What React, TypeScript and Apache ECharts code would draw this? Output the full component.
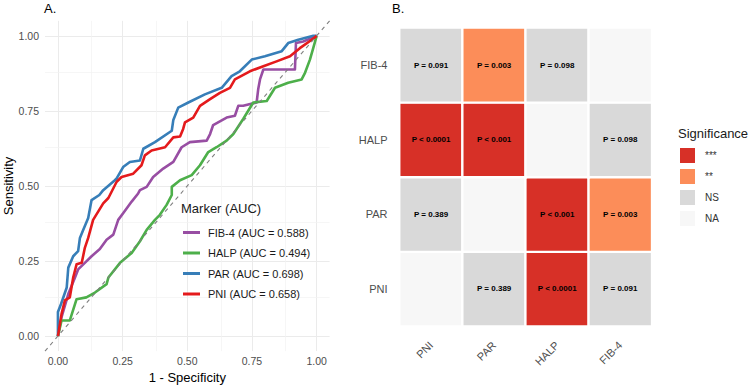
import React, { useEffect, useRef } from "react";
import * as echarts from "echarts";

// ROC curve points (1 - specificity, sensitivity)
const fib4Fpr = [0, 0.014, 0.04, 0.066, 0.078, 0.104, 0.13, 0.162, 0.188, 0.214, 0.233, 0.252, 0.285, 0.31, 0.317, 0.343, 0.368, 0.407, 0.446, 0.478, 0.51, 0.575, 0.588, 0.6, 0.652, 0.684, 0.697, 0.716, 0.768, 0.774, 0.781, 0.794, 0.897, 0.916, 0.92, 0.948, 1];
const fib4Tpr = [0, 0.063, 0.14, 0.195, 0.222, 0.244, 0.266, 0.29, 0.321, 0.338, 0.387, 0.409, 0.448, 0.475, 0.486, 0.497, 0.53, 0.558, 0.58, 0.629, 0.646, 0.651, 0.673, 0.703, 0.728, 0.734, 0.767, 0.767, 0.778, 0.822, 0.855, 0.888, 0.888, 0.888, 0.976, 0.981, 1];
const halpFpr = [0, 0.014, 0.046, 0.072, 0.11, 0.143, 0.188, 0.195, 0.24, 0.285, 0.317, 0.343, 0.375, 0.394, 0.42, 0.44, 0.44, 0.472, 0.517, 0.549, 0.581, 0.613, 0.652, 0.678, 0.716, 0.755, 0.807, 0.839, 0.89, 0.942, 0.955, 0.974, 0.987, 1];
const halpTpr = [0, 0.052, 0.052, 0.123, 0.129, 0.145, 0.173, 0.195, 0.244, 0.277, 0.316, 0.354, 0.387, 0.404, 0.437, 0.47, 0.497, 0.519, 0.536, 0.569, 0.613, 0.629, 0.651, 0.673, 0.723, 0.778, 0.783, 0.827, 0.844, 0.855, 0.877, 0.921, 0.96, 1];
const parFpr = [0, 0, 0.012, 0.034, 0.04, 0.059, 0.078, 0.085, 0.098, 0.117, 0.13, 0.16, 0.175, 0.22, 0.227, 0.252, 0.278, 0.317, 0.33, 0.375, 0.44, 0.446, 0.465, 0.504, 0.568, 0.633, 0.671, 0.703, 0.749, 0.8, 0.865, 0.89, 0.929, 0.987, 1];
const parTpr = [0, 0.08, 0.107, 0.162, 0.228, 0.266, 0.283, 0.327, 0.354, 0.393, 0.453, 0.47, 0.486, 0.519, 0.525, 0.563, 0.58, 0.585, 0.624, 0.646, 0.684, 0.72, 0.761, 0.778, 0.805, 0.827, 0.866, 0.882, 0.921, 0.932, 0.949, 0.976, 0.987, 1, 1];
const pniFpr = [0, 0.014, 0.027, 0.046, 0.059, 0.072, 0.092, 0.104, 0.117, 0.136, 0.175, 0.195, 0.227, 0.246, 0.291, 0.323, 0.336, 0.362, 0.414, 0.446, 0.472, 0.484, 0.491, 0.523, 0.549, 0.588, 0.626, 0.665, 0.684, 0.742, 0.794, 0.845, 0.897, 0.935, 0.981, 1];
const pniTpr = [0, 0.074, 0.119, 0.129, 0.195, 0.239, 0.244, 0.294, 0.327, 0.387, 0.442, 0.46, 0.514, 0.53, 0.541, 0.569, 0.602, 0.618, 0.629, 0.662, 0.665, 0.69, 0.712, 0.728, 0.767, 0.789, 0.81, 0.827, 0.855, 0.882, 0.899, 0.915, 0.932, 0.959, 0.987, 1];

const rocNames = ["FIB-4 (AUC = 0.588)", "HALP (AUC = 0.494)", "PAR (AUC = 0.698)", "PNI (AUC = 0.658)"];
const rocColors = ["#984EA3", "#4DAF4A", "#377EB8", "#E41A1C"];

const axisTicks = [0, 0.25, 0.5, 0.75, 1];
const minorTicks = [0.125, 0.375, 0.625, 0.875];
const diagonal = [-0.05, 1.05];

// Heatmap of pairwise comparisons
const markers = ["PNI", "PAR", "HALP", "FIB-4"];
// rows indexed by y category (PNI, PAR, HALP, FIB-4), columns by x category (PNI, PAR, HALP, FIB-4)
const pLabels = [
  ["", "P = 0.389", "P < 0.0001", "P = 0.091"],
  ["P = 0.389", "", "P < 0.001", "P = 0.003"],
  ["P < 0.0001", "P < 0.001", "", "P = 0.098"],
  ["P = 0.091", "P = 0.003", "P = 0.098", ""],
];
// significance code: 3 = ***, 2 = **, 1 = NS, 0 = NA
const sigCodes = [
  [0, 1, 3, 1],
  [1, 0, 3, 2],
  [3, 3, 0, 1],
  [1, 2, 1, 0],
];
const sigLabels = ["***", "**", "NS", "NA"];
const sigColors = ["#D73027", "#FC8D59", "#D9D9D9", "#F7F7F7"];
const sigValues = [3, 2, 1, 0];

const FONT = "Liberation Sans, Arial, sans-serif";

export default function App() {
  const ref = useRef<HTMLDivElement>(null);
  useEffect(() => {
    if (!ref.current) return;
    const chart = echarts.init(ref.current, undefined, { renderer: "svg" });

    const pairs = (xs: number[], ys: number[]) => xs.map((x, i) => [x, ys[i]]);
    const rocData = [pairs(fib4Fpr, fib4Tpr), pairs(halpFpr, halpTpr), pairs(parFpr, parTpr), pairs(pniFpr, pniTpr)];

    const heatData: any[] = [];
    for (let yi = 0; yi < markers.length; yi++) {
      for (let xi = 0; xi < markers.length; xi++) {
        heatData.push({ value: [xi, yi, sigCodes[yi][xi]], pText: pLabels[yi][xi] });
      }
    }

    const majorStyle = { color: "#EBEBEB", width: 1, type: "solid" };
    const minorStyle = { color: "#F2F2F2", width: 0.7, type: "solid" };
    const gridLines = [
      ...axisTicks.map((v) => ({ xAxis: v, lineStyle: majorStyle })),
      ...axisTicks.map((v) => ({ yAxis: v, lineStyle: majorStyle })),
      ...minorTicks.map((v) => ({ xAxis: v, lineStyle: minorStyle })),
      ...minorTicks.map((v) => ({ yAxis: v, lineStyle: minorStyle })),
    ];

    const tickLabel = { color: "#4D4D4D", fontSize: 10.5, fontFamily: FONT };

    const option: any = {
      animation: false,
      backgroundColor: "#ffffff",
      textStyle: { fontFamily: FONT },
      title: [
        { text: "A.", left: 44, top: 2, padding: 0, textStyle: { fontSize: 13, fontWeight: "normal", color: "#000", fontFamily: FONT } },
        { text: "B.", left: 392, top: 2, padding: 0, textStyle: { fontSize: 13, fontWeight: "normal", color: "#000", fontFamily: FONT } },
        { text: "Marker (AUC)", left: 181, top: 202, padding: 0, textStyle: { fontSize: 13, fontWeight: "normal", color: "#1a1a1a", fontFamily: FONT } },
        { text: "Significance", left: 678, top: 127, padding: 0, textStyle: { fontSize: 13, fontWeight: "normal", color: "#1a1a1a", fontFamily: FONT } },
      ],
      grid: [
        { left: 45, top: 20.85, width: 284.6, height: 333.3 },
        { left: 399.5, top: 27.7, width: 252.3, height: 298.5 },
      ],
      xAxis: [
        {
          type: "value", gridIndex: 0, min: -0.05, max: 1.05,
          axisLine: { show: false }, axisTick: { show: false }, splitLine: { show: false },
          axisLabel: { ...tickLabel, customValues: axisTicks, formatter: (v: number) => v.toFixed(2), margin: 4 },
          name: "1 - Specificity", nameLocation: "middle", nameGap: 17,
          nameTextStyle: { fontSize: 13, color: "#000", fontFamily: FONT, verticalAlign: "top" },
        },
        {
          type: "category", gridIndex: 1, data: markers,
          axisLine: { show: false }, axisTick: { show: false }, splitLine: { show: false },
          axisLabel: { color: "#4D4D4D", fontSize: 11, fontFamily: FONT, rotate: 45, margin: 17, interval: 0, padding: [0, 0, 0, 0] },
        },
      ],
      yAxis: [
        {
          type: "value", gridIndex: 0, min: -0.05, max: 1.05,
          axisLine: { show: false }, axisTick: { show: false }, splitLine: { show: false },
          axisLabel: { ...tickLabel, customValues: axisTicks, formatter: (v: number) => v.toFixed(2), margin: 6 },
          name: "Sensitivity", nameLocation: "middle", nameGap: 30, nameRotate: 90,
          nameTextStyle: { fontSize: 13, color: "#000", fontFamily: FONT },
        },
        {
          type: "category", gridIndex: 1, data: markers,
          axisLine: { show: false }, axisTick: { show: false }, splitLine: { show: false },
          axisLabel: { color: "#4D4D4D", fontSize: 11, fontFamily: FONT, margin: 12, interval: 0 },
        },
      ],
      legend: {
        data: rocNames, orient: "vertical", left: 183, top: 225.5, padding: 0,
        itemWidth: 17, itemHeight: 3, itemGap: 6.5, icon: "rect", selectedMode: false,
        textStyle: { fontSize: 11, color: "#1a1a1a", lineHeight: 14, fontFamily: FONT, padding: [0, 0, 0, 3] },
      },
      visualMap: {
        type: "piecewise", seriesIndex: 6, orient: "vertical", left: 680, top: 148, padding: 0,
        align: "left",
        itemWidth: 15, itemHeight: 15, itemGap: 6, textGap: 10, itemSymbol: "rect", selectedMode: false,
        showLabel: true,
        textStyle: { fontSize: 10, color: "#333333", fontFamily: FONT },
        pieces: sigValues.map((v, i) => ({ value: v, label: sigLabels[i], color: sigColors[i] })),
      },
      series: [
        {
          name: "grid", type: "line", xAxisIndex: 0, yAxisIndex: 0, data: [], silent: true, z: 0,
          markLine: { silent: true, symbol: ["none", "none"], label: { show: false }, z: 0, data: gridLines, animation: false },
        },
        ...rocNames.map((name, i) => ({
          name, type: "line", xAxisIndex: 0, yAxisIndex: 0, data: rocData[i],
          showSymbol: false, symbol: "none", z: 2 + i,
          itemStyle: { color: rocColors[i] },
          lineStyle: { color: rocColors[i], width: 2.6, join: "round" },
          emphasis: { disabled: true },
        })),
        {
          name: "diag", type: "line", xAxisIndex: 0, yAxisIndex: 0, data: diagonal.map((v) => [v, v]),
          showSymbol: false, symbol: "none", z: 10, silent: true,
          lineStyle: { color: "#7F7F7F", width: 1.1, type: [4, 4] },
        },
        {
          type: "heatmap", xAxisIndex: 1, yAxisIndex: 1, data: heatData,
          itemStyle: { borderColor: "#ffffff", borderWidth: 2.4 },
          label: { show: true, formatter: (p: any) => p.data.pText, fontSize: 8, fontWeight: "bold", color: "#000", fontFamily: FONT },
          emphasis: { disabled: true },
        },
      ],
    };
    chart.setOption(option);
    return () => chart.dispose();
  }, []);
  return <div ref={ref} style={{ position: "absolute", left: 0, top: 0, width: 750, height: 389 }} />;
}
